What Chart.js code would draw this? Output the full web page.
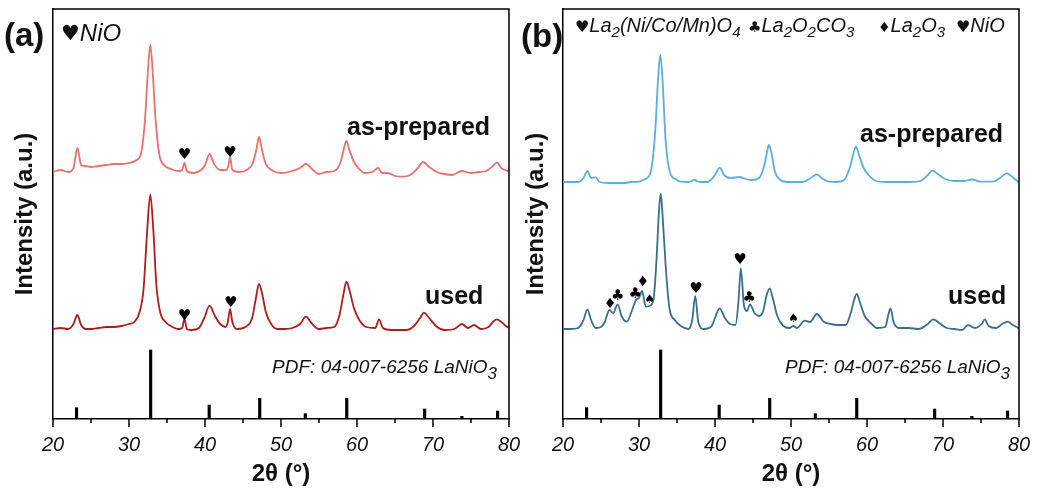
<!DOCTYPE html>
<html><head><meta charset="utf-8">
<script src="https://cdn.jsdelivr.net/npm/chart.js@4.4.0/dist/chart.umd.min.js"></script>
<style>
html,body{margin:0;padding:0;background:#fff;}
#wrap{position:relative;width:1037px;height:495px;overflow:hidden;background:#fff;}
.pane{position:absolute;top:0;height:495px;}
#pa{left:0;width:520px;}
#pb{left:520px;width:517px;}
</style></head><body>
<div id="wrap"><div class="pane" id="pa"><canvas id="ca"></canvas></div><div class="pane" id="pb"><canvas id="cb"></canvas></div></div>
<script>
// ---------- DATA (2θ in degrees, intensity in arbitrary offset units) ----------
const xTicks = [20, 30, 40, 50, 60, 70, 80];

// (a) as-prepared
const aAsPrepared = [[20,247.3],[21,249],[22,247],[22.7,251],[23.2,271],[23.7,254],[24.2,253],[25,252],[26,253],[27,254],[28,255],[29,255],[30,256],[31,259],[31.6,266],[32.1,299],[32.5,349],[32.8,374],[33.1,349],[33.5,299],[34.0,264],[34.6,254],[35.5,250],[36.5,248],[37.0,249],[37.3,256],[37.6,248],[38.5,246],[39.5,249],[40.0,254],[40.6,265],[41.2,255],[42.0,249],[42.8,249],[43.1,254],[43.3,262],[43.6,249],[44.5,247],[45.5,249],[46.3,256],[46.8,271],[47.1,282],[47.5,269],[48.0,255],[49,248],[50,246],[51,247],[52.5,251],[53.3,255],[54.2,249],[55,245],[56,247],[57,248],[57.8,256],[58.3,271],[58.6,278],[59.0,269],[59.6,257],[60.3,250],[61,246],[62,247],[62.8,251],[63.3,246],[64,246],[65,243],[66,242.3],[67,244],[68,251],[68.7,257],[69.5,252],[70.5,247],[71.5,245],[72.5,244],[73.8,248],[75,246],[76,247],[77,248],[78.0,254],[78.4,256.3],[79,251],[79.5,249],[80,247.3]];
// (a) used
const aUsed = [[20,90],[21,91],[22,90],[22.7,95],[23.2,104],[23.7,94],[24.3,90],[25,90],[26,91],[27,92],[28,92],[29,93],[30,95],[30.7,97],[31.4,107],[31.9,129],[32.4,189],[32.8,224.7],[33.2,189],[33.6,134],[34.1,107],[34.8,97],[35.5,93],[36.5,90],[37.0,91],[37.3,100.7],[37.6,90],[38.2,89],[39.2,91],[39.9,101],[40.6,113.3],[41.3,103],[42.0,95],[42.7,92],[43.0,97],[43.3,110],[43.6,97],[44.2,90],[45.3,92],[46.2,101],[46.7,121],[47.1,135],[47.5,126],[48.0,107],[48.7,95],[49.5,90],[50.5,90],[51.5,91],[52.5,95],[53.3,102.3],[54.0,96],[55,90],[56,91],[57,92],[57.7,104],[58.2,124],[58.6,137.3],[59.0,129],[59.6,111],[60.3,99],[61.2,92],[62.4,91],[62.9,99.7],[63.4,91],[64.5,89],[65.5,89],[66.5,89],[67.5,93],[68.3,101],[68.8,106.3],[69.5,101],[70.5,92.3],[71.5,89],[72.8,90],[73.8,95],[74.6,91],[75.4,94],[76.3,90],[77.3,92],[78.0,98],[78.4,99.7],[79.0,97],[79.6,93],[80,91]];
// (b) as-prepared
const bAsPrepared = [[20,237],[21,237],[22,237],[22.7,241],[23.2,248],[23.7,241],[24.3,241.7],[24.8,237],[26,236],[27,236],[28,236],[29,237],[30,237.3],[30.8,240],[31.5,246],[32.1,284],[32.5,339],[32.8,364],[33.1,339],[33.5,279],[34.1,246],[34.8,240],[35.5,237.3],[36.5,237],[37.3,239],[38.0,237],[39.0,237],[40.0,244],[40.6,251.3],[41.3,243],[42.2,241],[43.2,242],[44.0,240],[44.8,239],[45.8,241],[46.5,254],[46.9,269],[47.1,274],[47.4,267],[47.9,247],[48.6,239],[49.5,237],[50.5,237],[51.5,237],[52.6,241],[53.4,244.7],[54.2,240],[55,237.3],[56,237],[57,239],[57.8,253],[58.3,268],[58.55,272.3],[58.9,265],[59.5,252],[60.2,244],[61.2,238],[62.5,237],[64,237],[65.5,237],[67,238],[68,244],[68.6,248.3],[69.3,245],[70.3,240],[71.5,238],[72.8,238],[73.8,239.5],[75,237.3],[76.5,237.3],[77.5,241],[78.4,245.7],[79.0,243],[79.6,239],[80,236.7]];
// (b) used
const bUsed = [[20,90],[21,90],[22,91],[22.7,99],[23.2,109.7],[23.7,99],[24.3,91],[25.0,92],[25.5,97],[26.1,109],[26.6,106],[27.2,114.7],[27.7,103],[28.4,97.3],[29.0,107],[29.6,119],[30.0,121],[30.4,128],[30.9,112.3],[31.4,113.3],[31.9,119],[32.3,159],[32.6,204],[32.85,225.7],[33.1,204],[33.5,154],[34.0,111],[34.7,99],[35.5,93],[36.5,90],[37.0,99],[37.4,123],[37.8,97],[38.5,90],[39.5,92.3],[40.0,101],[40.6,110.7],[41.3,101],[42.0,95],[42.7,94],[43.1,119],[43.4,150.7],[43.8,114],[44.2,108],[44.6,114.7],[45.2,106],[45.8,103],[46.3,107],[46.8,124],[47.2,130.7],[47.6,121],[48.2,103],[49.0,93],[49.8,91],[50.3,93],[50.8,91],[51.8,98.3],[52.5,97],[53.4,105],[54.3,97.3],[55.2,95],[56.2,94],[57.2,94],[57.9,107],[58.3,119],[58.65,125],[59.1,116],[59.7,103],[60.5,96],[61.3,91],[62.4,92],[62.8,104],[63.1,110.7],[63.5,97],[64.2,91],[65.5,91],[66.8,90],[68.0,95],[68.7,99.7],[69.5,96],[70.5,91],[71.5,90],[72.5,89],[73.3,94],[74.2,91],[75.1,95],[75.5,99.7],[76.0,93],[77.0,91],[77.8,95],[78.5,97.3],[79.2,94],[80,90.7]];

// PDF 04-007-6256 LaNiO3 reference lines
const pdfTheta = [23.1, 32.85, 40.55, 47.2, 53.2, 58.65, 68.9, 73.8, 78.5];
const pdfInt   = [11.3, 69, 14, 20.7, 5.3, 20.7, 10, 2.7, 8];

// phase markers: [symbol, 2θ, intensity]
const aMarks = [['♥',37.3,263.7],['♥',43.3,266.3],['♥',37.3,103.3],['♥',43.4,116.3]];
const bMarks = [['♦',26.2,115],['♣',27.2,123],['♣',29.5,125],['♦',30.5,137],['♠',31.4,119],['♥',37.5,130.3],['♥',43.3,159],['♣',44.5,121.3],['♠',50.3,99.7]];

// ---------- RENDERING ----------
const SANS = 'Arial, "Liberation Sans", Helvetica, sans-serif';
const SYM = '"DejaVu Sans", sans-serif';
const BLACK = '#111';

function drawRich(ctx, x, y, segs, align) {
  let total = 0;
  for (const s of segs) { ctx.font = s.font; total += ctx.measureText(s.t).width + (s.gap || 0); }
  let cx = align === 'right' ? x - total : x;
  ctx.textAlign = 'left';
  ctx.textBaseline = 'alphabetic';
  for (const s of segs) {
    ctx.font = s.font;
    ctx.fillStyle = BLACK;
    ctx.fillText(s.t, cx, y + (s.dy || 0));
    cx += ctx.measureText(s.t).width + (s.gap || 0);
  }
}
const it = (sz) => `italic ${sz}px ${SANS}`;
const bd = (sz) => `bold ${sz}px ${SANS}`;
const sy = (sz) => `${sz}px ${SYM}`;

function symSize(s) { return s === '♠' ? 12 : (s === '♦' ? 14 : 15); }

function makePanel(id, cfg) {
  const overlay = {
    id: 'overlay',
    afterDatasetsDraw(chart) {
      const {ctx, chartArea: a, scales: {x, y}} = chart;
      ctx.save();
      ctx.strokeStyle = '#000';
      ctx.lineWidth = 1.5;
      ctx.beginPath();
      ctx.moveTo(a.left, a.top); ctx.lineTo(a.right, a.top); ctx.lineTo(a.right, a.bottom);
      ctx.stroke();
      ctx.beginPath();
      for (let v = 20; v <= 80; v += 5) {
        const px = x.getPixelForValue(v);
        const len = (v % 10 === 0) ? 8 : 4;
        ctx.moveTo(px, a.bottom); ctx.lineTo(px, a.bottom + len);
      }
      ctx.stroke();
      ctx.fillStyle = '#000';
      ctx.textAlign = 'center';
      ctx.textBaseline = 'middle';
      for (const [s, t, v] of cfg.marks) {
        ctx.font = sy(symSize(s));
        ctx.fillText(s, x.getPixelForValue(t), y.getPixelForValue(v));
      }
      for (const L of cfg.labels) drawRich(ctx, L.x, L.y, L.segs, L.align);
      ctx.restore();
    }
  };
  return new Chart(document.getElementById(id), {
    type: 'line',
    data: {
      datasets: [
        { data: cfg.top.map(([x, y]) => ({x, y})), borderColor: cfg.topColor, borderWidth: 1.8, pointRadius: 0, cubicInterpolationMode: 'monotone' },
        { data: cfg.bottom.map(([x, y]) => ({x, y})), borderColor: cfg.bottomColor, borderWidth: 1.8, pointRadius: 0, cubicInterpolationMode: 'monotone' },
        { type: 'bar', data: pdfTheta.map((t, i) => ({x: t, y: pdfInt[i]})), backgroundColor: '#000', barThickness: 2.5, borderWidth: 0 }
      ]
    },
    options: {
      responsive: true, maintainAspectRatio: false, animation: false,
      layout: { padding: { top: 9, right: cfg.padRight, left: 0, bottom: 0 } },
      plugins: { legend: { display: false }, tooltip: { enabled: false } },
      scales: {
        x: {
          type: 'linear', min: 20, max: 80, offset: false,
          afterBuildTicks: (s) => { s.ticks = xTicks.map(v => ({value: v})); },
          afterFit: (s) => { s.height = 76; s.paddingLeft = 0; s.paddingRight = 0; },
          grid: { display: false, drawTicks: false },
          border: { display: true, color: '#000', width: 1.5 },
          ticks: { padding: 16, color: BLACK, maxRotation: 0, autoSkip: false, font: { family: SANS, size: 20, style: 'italic', lineHeight: 1 } },
          title: { display: true, text: '2θ (°)', color: BLACK, font: { family: SANS, size: 24, weight: 'bold', lineHeight: 1 }, padding: { top: 0, bottom: 9 } }
        },
        y: {
          type: 'linear', min: 0, max: 410,
          afterFit: (s) => { s.width = cfg.yWidth; s.paddingTop = 0; s.paddingBottom = 0; },
          grid: { display: false, drawTicks: false },
          border: { display: true, color: '#000', width: 1.5 },
          ticks: { display: false },
          title: { display: true, text: 'Intensity (a.u.)', color: BLACK, font: { family: SANS, size: 24, weight: 'bold', lineHeight: 1 }, padding: { top: cfg.yTitlePad, bottom: 0 } }
        }
      }
    },
    plugins: [overlay]
  });
}

const pdfSegs = [{t: 'PDF: 04-007-6256 LaNiO', font: it(19)}, {t: '3', font: it(17), dy: 6}];

makePanel('ca', {
  top: aAsPrepared, bottom: aUsed, topColor: '#E9706C', bottomColor: '#B01C1C',
  padRight: 11, yWidth: 53, yTitlePad: 13, marks: aMarks,
  labels: [
    {x: 4, y: 46, segs: [{t: '(a)', font: bd(33)}]},
    {x: 61, y: 41, segs: [{t: '♥', font: sy(21), dy: -1}, {t: 'NiO', font: it(24)}]},
    {x: 347, y: 135, segs: [{t: 'as-prepared', font: bd(25)}]},
    {x: 425, y: 304, segs: [{t: 'used', font: bd(25)}]},
    {x: 497, y: 373, align: 'right', segs: pdfSegs}
  ]
});

makePanel('cb', {
  top: bAsPrepared, bottom: bUsed, topColor: '#5BAEDF', bottomColor: '#3A6F8A',
  padRight: 18, yWidth: 43, yTitlePad: 4, marks: bMarks,
  labels: [
    {x: 1, y: 47, segs: [{t: '(b)', font: bd(33)}]},
    {x: 55, y: 32, segs: [{t: '♥', font: sy(16)}, {t: 'La', font: it(20)}, {t: '2', font: it(15), dy: 5}, {t: '(Ni/Co/Mn)O', font: it(20)}, {t: '4', font: it(15), dy: 5}]},
    {x: 228, y: 32, segs: [{t: '♣', font: sy(15)}, {t: 'La', font: it(20)}, {t: '2', font: it(15), dy: 5}, {t: 'O', font: it(20)}, {t: '2', font: it(15), dy: 5}, {t: 'CO', font: it(20)}, {t: '3', font: it(15), dy: 5}]},
    {x: 358, y: 32, segs: [{t: '♦', font: sy(14)}, {t: 'La', font: it(20)}, {t: '2', font: it(15), dy: 5}, {t: 'O', font: it(20)}, {t: '3', font: it(15), dy: 5}]},
    {x: 436, y: 32, segs: [{t: '♥', font: sy(16)}, {t: 'NiO', font: it(20)}]},
    {x: 340, y: 142, segs: [{t: 'as-prepared', font: bd(25)}]},
    {x: 428, y: 304, segs: [{t: 'used', font: bd(25)}]},
    {x: 490, y: 373, align: 'right', segs: pdfSegs}
  ]
});
</script>
</body></html>
